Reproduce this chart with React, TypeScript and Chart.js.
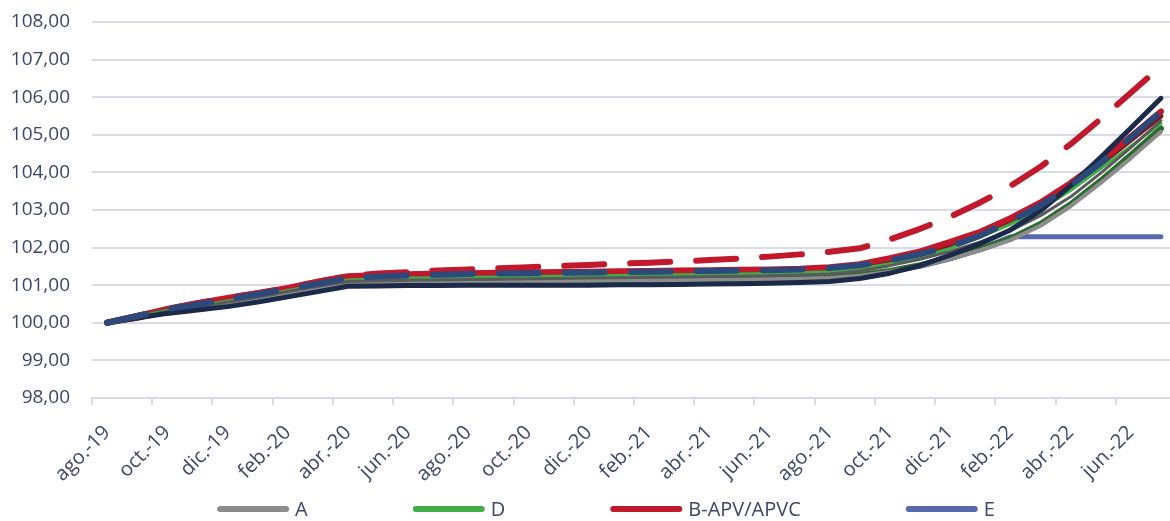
import React, { useEffect, useRef } from 'react';
import { Chart, registerables } from 'chart.js';

Chart.register(...registerables);

const months = [
  'ago.-19', 'sep.-19', 'oct.-19', 'nov.-19', 'dic.-19', 'ene.-20', 'feb.-20', 'mar.-20', 'abr.-20',
  'may.-20', 'jun.-20', 'jul.-20', 'ago.-20', 'sep.-20', 'oct.-20', 'nov.-20', 'dic.-20', 'ene.-21',
  'feb.-21', 'mar.-21', 'abr.-21', 'may.-21', 'jun.-21', 'jul.-21', 'ago.-21', 'sep.-21', 'oct.-21',
  'nov.-21', 'dic.-21', 'ene.-22', 'feb.-22', 'mar.-22', 'abr.-22', 'may.-22', 'jun.-22', 'jul.-22',
];

const serieA = [
  100.0, 100.14, 100.28, 100.38, 100.5, 100.63, 100.78, 100.92, 101.05, 101.07, 101.08, 101.09,
  101.1, 101.1, 101.11, 101.11, 101.12, 101.12, 101.13, 101.13, 101.14, 101.15, 101.16, 101.17,
  101.19, 101.25, 101.36, 101.5, 101.7, 101.93, 102.2, 102.58, 103.1, 103.72, 104.38, 105.08,
];

const serieD = [
  100.0, 100.16, 100.33, 100.45, 100.58, 100.71, 100.86, 101.0, 101.14, 101.17, 101.19, 101.2,
  101.21, 101.22, 101.23, 101.24, 101.25, 101.26, 101.27, 101.28, 101.29, 101.3, 101.31, 101.33,
  101.36, 101.44, 101.57, 101.75, 101.98, 102.28, 102.62, 103.02, 103.52, 104.1, 104.7, 105.3,
];

const serieBApv = [
  100.0, 100.18, 100.37, 100.52, 100.66, 100.79, 100.93, 101.09, 101.24, 101.27, 101.29, 101.31,
  101.32, 101.33, 101.34, 101.35, 101.36, 101.37, 101.38, 101.39, 101.4, 101.41, 101.42, 101.44,
  101.48, 101.56, 101.72, 101.9, 102.15, 102.42, 102.78, 103.2, 103.72, 104.3, 104.95, 105.62,
];

const serieE = [
  100.0, 100.14, 100.28, 100.38, 100.5, 100.63, 100.78, 100.92, 101.05, 101.07, 101.08, 101.09,
  101.1, 101.1, 101.11, 101.11, 101.12, 101.12, 101.13, 101.13, 101.14, 101.15, 101.16, 101.17,
  101.19, 101.27, 101.36, 101.5, 101.7, 101.96, 102.29, 102.29, 102.29, 102.29, 102.29, 102.29,
];

const serieC = [
  100.0, 100.15, 100.3, 100.4, 100.52, 100.65, 100.8, 100.94, 101.07, 101.09, 101.1, 101.11,
  101.12, 101.12, 101.13, 101.13, 101.14, 101.14, 101.15, 101.15, 101.16, 101.17, 101.18, 101.19,
  101.21, 101.27, 101.38, 101.53, 101.73, 101.96, 102.24, 102.63, 103.15, 103.78, 104.46, 105.17,
];

const serieB = [
  100.0, 100.12, 100.3, 100.45, 100.59, 100.72, 100.86, 101.02, 101.17, 101.2, 101.22, 101.24,
  101.25, 101.26, 101.27, 101.28, 101.29, 101.3, 101.31, 101.32, 101.33, 101.34, 101.35, 101.37,
  101.41, 101.49, 101.64, 101.82, 102.06, 102.34, 102.7, 103.12, 103.64, 104.22, 104.86, 105.5,
];

const serieGris = [
  100.0, 100.15, 100.31, 100.42, 100.55, 100.68, 100.83, 100.97, 101.1, 101.12, 101.13, 101.14,
  101.15, 101.16, 101.17, 101.18, 101.19, 101.2, 101.21, 101.22, 101.23, 101.24, 101.25, 101.27,
  101.3, 101.38, 101.52, 101.69, 101.9, 102.15, 102.45, 102.85, 103.35, 103.98, 104.66, 105.38,
];

const serieNavy = [
  100.0, 100.13, 100.25, 100.34, 100.43, 100.55, 100.69, 100.83, 100.97, 100.98, 100.99, 100.99,
  101.0, 101.0, 101.0, 101.0, 101.0, 101.01, 101.01, 101.02, 101.03, 101.04, 101.05, 101.07,
  101.1, 101.18, 101.32, 101.52, 101.8, 102.1, 102.47, 102.98, 103.65, 104.4, 105.18, 105.97,
];

const serieAzulDash = [
  100.0, 100.18, 100.36, 100.49, 100.63, 100.76, 100.9, 101.04, 101.19, 101.23, 101.26, 101.28,
  101.3, 101.31, 101.32, 101.33, 101.34, 101.35, 101.36, 101.37, 101.38, 101.39, 101.4, 101.42,
  101.46, 101.53, 101.66, 101.83, 102.03, 102.32, 102.7, 103.12, 103.65, 104.25, 104.93, 105.62,
];

const serieRojoDash = [
  100.0, 100.18, 100.37, 100.52, 100.66, 100.79, 100.93, 101.09, 101.24, 101.31, 101.35, 101.39,
  101.42, 101.45, 101.48, 101.51, 101.54, 101.57, 101.6, 101.63, 101.67, 101.71, 101.76, 101.82,
  101.89, 101.98, 102.22, 102.5, 102.82, 103.2, 103.64, 104.15, 104.75, 105.42, 106.12, 106.82,
];

const yTicksMin = 98;
const yTicksMax = 108;

const FONT = '"Open Sans", "Noto Sans", sans-serif';
const TEXT = '#3d4668';
const GRID = '#d9dbea';

const legendItems = [
  { label: 'A', color: '#8c8c8c' },
  { label: 'D', color: '#3fae49' },
  { label: 'B-APV/APVC', color: '#c0192b' },
  { label: 'E', color: '#5668ae' },
];

const legendPlugin = {
  id: 'excelLegend',
  afterDraw(chart: any) {
    const ctx = chart.ctx;
    ctx.save();
    ctx.font = `20px ${FONT}`;
    const lineLen = 72;
    const gapText = 6;
    const gapItem = 105;
    const widths = legendItems.map((it) => lineLen + gapText + ctx.measureText(it.label).width);
    const total = widths.reduce((a, b) => a + b, 0) + gapItem * (legendItems.length - 1);
    let x = 606 - total / 2;
    const y = 509;
    legendItems.forEach((it, i) => {
      ctx.strokeStyle = it.color;
      ctx.lineWidth = 6;
      ctx.lineCap = 'round';
      ctx.setLineDash([]);
      ctx.beginPath();
      ctx.moveTo(x + 3, y);
      ctx.lineTo(x + lineLen - 3, y);
      ctx.stroke();
      ctx.fillStyle = TEXT;
      ctx.textBaseline = 'middle';
      ctx.textAlign = 'left';
      ctx.fillText(it.label, x + lineLen + gapText, y + 1);
      x += widths[i] + gapItem;
    });
    ctx.restore();
  },
};

function ds(label: string, data: number[], color: string, width: number, order: number, dash?: number[]) {
  return {
    label,
    data,
    borderColor: color,
    backgroundColor: color,
    borderWidth: width,
    borderDash: dash || [],
    borderCapStyle: 'round',
    borderJoinStyle: 'round',
    pointRadius: 0,
    tension: 0,
    fill: false,
    order,
  };
}

export default function App() {
  const ref = useRef<HTMLCanvasElement | null>(null);

  useEffect(() => {
    if (!ref.current) return;
    const chart = new Chart(ref.current, {
      type: 'line',
      data: {
        labels: months,
        datasets: [
          ds('Serie azul', serieAzulDash, '#2b4a7b', 6, 1, [40, 26]),
          ds('Serie roja', serieRojoDash, '#c0192b', 6, 2, [40, 26]),
          ds('Serie navy', serieNavy, '#1b2a48', 5, 3),
          ds('Serie gris', serieGris, '#5a5a5a', 3, 4),
          ds('D', serieD, '#3fae49', 3, 5),
          ds('A', serieA, '#8c8c8c', 4, 6),
          ds('C', serieC, '#2b6b2e', 6, 7),
          ds('B-APV/APVC', serieBApv, '#c0192b', 6, 8),
          ds('B', serieB, '#7a1a22', 5, 9),
          ds('E', serieE, '#5668ae', 5, 10),
        ] as any,
      },
      options: {
        animation: false,
        responsive: false,
        devicePixelRatio: 1,
        layout: { autoPadding: false, padding: { top: 22, left: 0, right: 0, bottom: 0 } },
        plugins: {
          legend: { display: false },
          tooltip: { enabled: false },
        },
        scales: {
          x: {
            type: 'category',
            offset: true,
            grid: {
              offset: true,
              drawOnChartArea: false,
              drawTicks: true,
              tickLength: 7,
              lineWidth: 2,
              color: (c: any) => (c.index % 2 === 0 ? GRID : 'rgba(0,0,0,0)'),
            },
            border: { display: true, color: GRID, width: 2 },
            ticks: {
              autoSkip: false,
              maxRotation: 45,
              minRotation: 45,
              padding: 16,
              color: TEXT,
              font: { family: FONT, size: 20 },
              callback: (_v: any, i: number) => (i % 2 === 0 ? months[i] : ''),
            },
            afterFit: (s: any) => {
              s.height = 123;
              s.paddingLeft = 0;
              s.paddingRight = 0;
            },
          },
          y: {
            min: yTicksMin,
            max: yTicksMax,
            ticks: {
              stepSize: 1,
              padding: 22,
              color: TEXT,
              font: { family: FONT, size: 19 },
              callback: (v: any) => Number(v).toFixed(2).replace('.', ','),
            },
            grid: { color: GRID, lineWidth: 2, drawTicks: false },
            border: { display: false },
            afterFit: (s: any) => {
              s.width = 92;
              s.paddingTop = 0;
              s.paddingBottom = 0;
            },
          },
        },
      } as any,
      plugins: [legendPlugin],
    });
    return () => chart.destroy();
  }, []);

  return (
    <div style={{ position: 'absolute', left: 0, top: 0, width: 1170, height: 521, overflow: 'hidden', background: '#fff' }}>
      <canvas ref={ref} width={1176} height={521} style={{ display: 'block' }} />
    </div>
  );
}
